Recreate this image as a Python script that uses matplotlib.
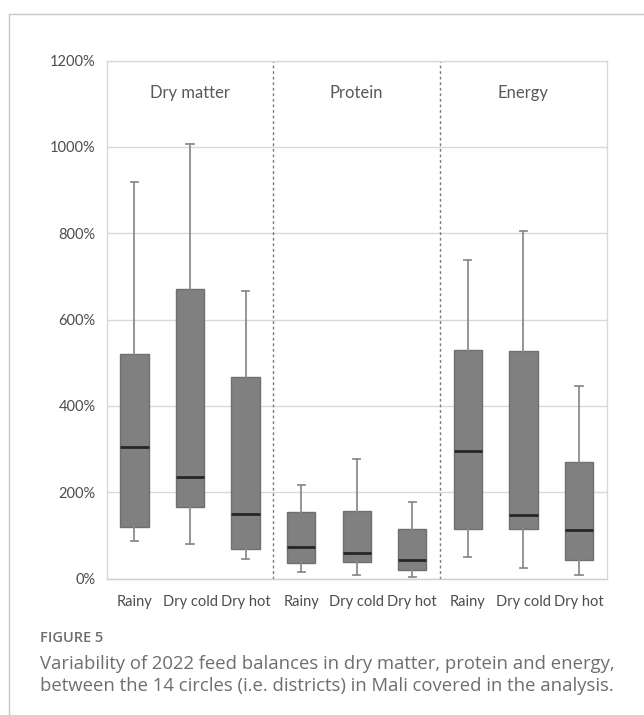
import matplotlib.pyplot as plt
from matplotlib.lines import Line2D
from matplotlib.ticker import FuncFormatter

# feed balance distributions (% of requirement)
groups = ["Dry matter", "Protein", "Energy"]
seasons = ["Rainy", "Dry cold", "Dry hot"]

whis_lo = [88, 81, 45, 15, 8, 4, 49, 25, 9]
q1 = [119, 165, 68, 35, 38, 20, 114, 114, 44]
median = [304, 235, 149, 73, 60, 42, 296, 148, 113]
q3 = [519, 670, 466, 155, 157, 114, 529, 527, 270]
whis_hi = [919, 1007, 667, 216, 276, 178, 738, 805, 446]

W, H = 644, 715
fig = plt.figure(figsize=(W / 100, H / 100), dpi=100)
ax = fig.add_axes([106.7 / W, 1 - 578.5 / H, 500 / W, (578.5 - 60.5) / H])

stats = []
for i in range(len(median)):
    stats.append(dict(med=median[i], q1=q1[i], q3=q3[i],
                      whislo=whis_lo[i], whishi=whis_hi[i], fliers=[]))

ax.bxp(stats, positions=range(len(stats)), widths=0.51, capwidths=0.13,
       patch_artist=True, showfliers=False,
       boxprops=dict(facecolor="#808080", edgecolor="#6f6f6f", linewidth=1),
       medianprops=dict(color="#262626", linewidth=2),
       whiskerprops=dict(color="#8c8c8c", linewidth=1.3),
       capprops=dict(color="#8c8c8c", linewidth=1.3))

ax.set_ylim(0, 1200)
ax.set_xlim(-0.5, 8.5)
ax.set_yticks(range(0, 1201, 200))
ax.yaxis.set_major_formatter(FuncFormatter(lambda v, p: f"{v:.0f}%"))
ax.set_xticks(range(9))
ax.set_xticklabels(seasons * 3)
ax.tick_params(length=0, colors="#595959", labelsize=10.5)
ax.tick_params(axis="y", pad=8)
ax.tick_params(axis="x", pad=12)
for lab in ax.get_xticklabels() + ax.get_yticklabels():
    lab.set_fontfamily("Lato")
    lab.set_color("#4d4d4d")

ax.grid(axis="y", color="#d9d9d9", linewidth=1)
ax.set_axisbelow(True)
for s in ax.spines.values():
    s.set_color("#d9d9d9")
    s.set_linewidth(1)
ax.spines["bottom"].set_color("#cfcfcf")

for b in (2.5, 5.5):
    ax.axvline(b, color="#7a7a7a", linewidth=1, linestyle=(0, (2, 2)))

for g, name in enumerate(groups):
    ax.text(g * 3 + 1, 1125, name, ha="center", va="center",
            fontsize=12, color="#595959", family="Lato")

# frame of the figure card
fig.add_artist(Line2D([9.3 / W, 9.3 / W], [0, 1 - 14 / H], color="#c8c8c8", lw=1))
fig.add_artist(Line2D([9.3 / W, 1], [1 - 14 / H, 1 - 14 / H], color="#c8c8c8", lw=1))

fig.text(40 / W, 1 - 638 / H, "FIGURE 5", fontsize=10.5, color="#6e6e6e",
         fontweight="semibold", family="Open Sans", va="center")
fig.text(40 / W, 1 - 664 / H,
         "Variability of 2022 feed balances in dry matter, protein and energy,",
         fontsize=13.3, color="#6e6e6e", family="Open Sans", va="center")
fig.text(40 / W, 1 - 686 / H,
         "between the 14 circles (i.e. districts) in Mali covered in the analysis.",
         fontsize=13.3, color="#6e6e6e", family="Open Sans", va="center")

fig.savefig("out.png", dpi=100)
